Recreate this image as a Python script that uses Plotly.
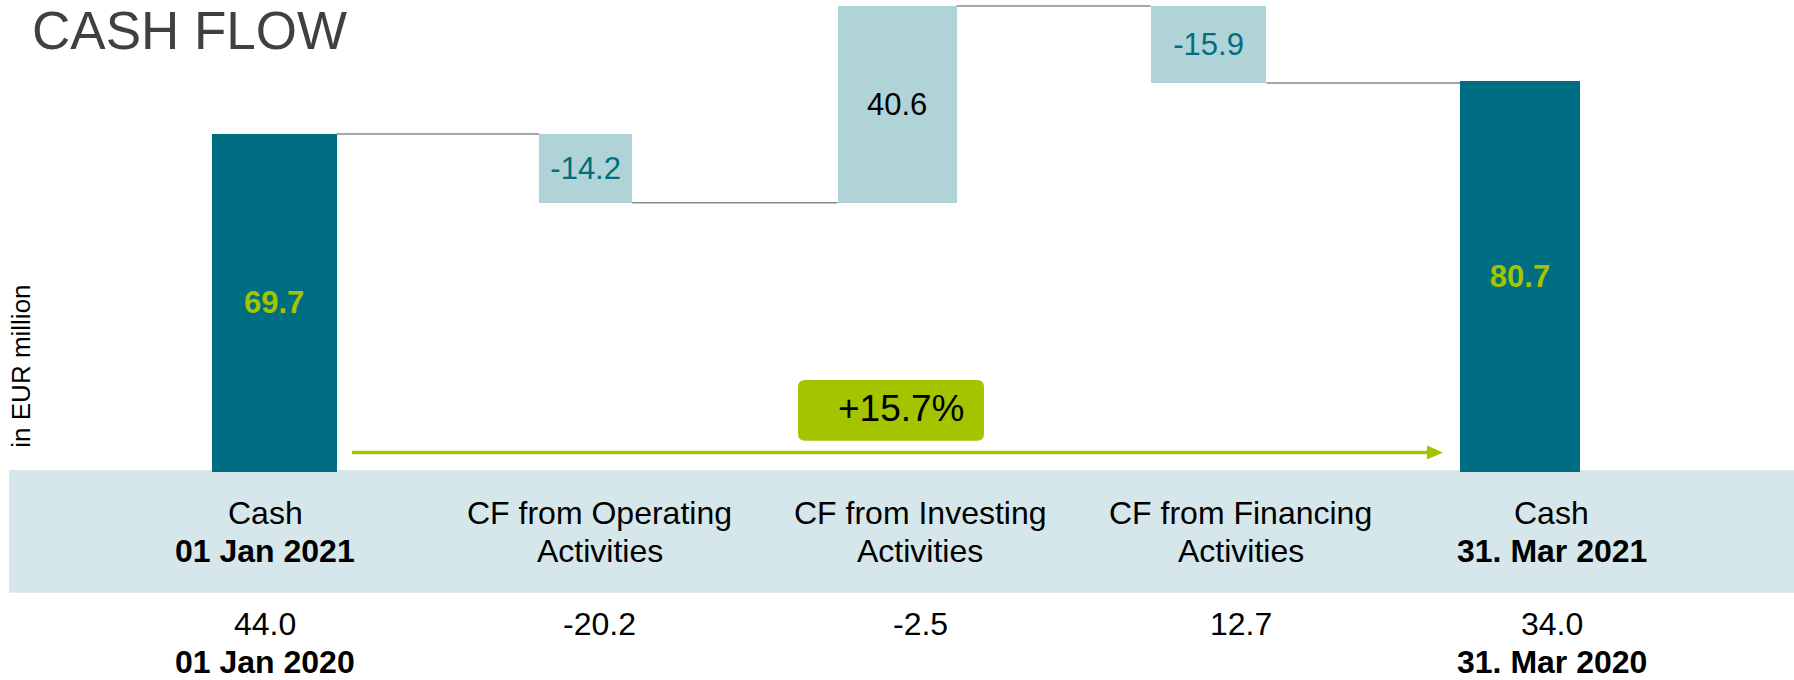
import plotly.graph_objects as go

# ---------------- data ----------------
cat_line1 = ["Cash", "CF from Operating", "CF from Investing", "CF from Financing", "Cash"]
cat_line2 = ["01 Jan 2021", "Activities", "Activities", "Activities", "31. Mar 2021"]
measures = ["absolute", "relative", "relative", "relative", "absolute"]
values_2021 = [69.7, -14.2, 40.6, -15.9, 80.7]
values_2020 = [44.0, -20.2, -2.5, 12.7, 34.0]
dates_2020 = ["01 Jan 2020", "", "", "", "31. Mar 2020"]
change_label = "+15.7%"
title_text = "CASH FLOW"
unit_text = "in EUR million"

# ---------------- style ----------------
W, H = 1794, 680
FONT = "Liberation Sans, Arial, sans-serif"
DARK = "#006e82"
LIGHT = "#b0d3d7"
BAND = "#d5e7eb"
GREEN = "#a5c400"
CONN = "#8a8a8a"
bar_widths = [0.401, 0.299, 0.382, 0.372, 0.385]
label_xshift = [-9, 14, 23, 32, 32]
line2_bold = [True, False, False, False, True]

def px_x(p):
    return p / W

def px_y(p):
    return 1 - p / H

# waterfall geometry from data
bases, running, ends = [], 0.0, []
for m, v in zip(measures, values_2021):
    if m == "absolute":
        bases.append(0.0)
        running = v
    else:
        bases.append(running)
        running = running + v
    ends.append(running)

xs = list(range(len(values_2021)))
bar_colors = [DARK if m == "absolute" else LIGHT for m in measures]
texts, text_colors = [], []
for m, v in zip(measures, values_2021):
    if m == "absolute":
        texts.append(f"<b>{v:.1f}</b>")
        text_colors.append(GREEN)
    elif v < 0:
        texts.append(f"{v:.1f}")
        text_colors.append(DARK)
    else:
        texts.append(f"{v:.1f}")
        text_colors.append("#000000")

fig = go.Figure()
fig.add_trace(go.Bar(
    x=xs, y=values_2021, base=bases, width=bar_widths,
    marker=dict(color=bar_colors, line=dict(width=0)),
    text=texts, textposition="inside", insidetextanchor="middle", textangle=0,
    textfont=dict(family=FONT, size=31, color=text_colors),
    hoverinfo="skip", showlegend=False,
))

# connectors
for i in range(len(xs) - 1):
    x0 = xs[i] + bar_widths[i] / 2
    x1 = xs[i + 1] - bar_widths[i + 1] / 2
    fig.add_trace(go.Scatter(
        x=[x0, x1], y=[ends[i], ends[i]], mode="lines",
        line=dict(color=CONN, width=1.5), hoverinfo="skip", showlegend=False,
    ))

shapes = []
# band behind the category labels
shapes.append(dict(type="rect", xref="paper", yref="paper",
                   x0=px_x(9), x1=1.0, y0=px_y(592.7), y1=px_y(470),
                   fillcolor=BAND, line=dict(width=0), layer="below"))
# green arrow
shapes.append(dict(type="line", xref="paper", yref="paper",
                   x0=px_x(352), x1=px_x(1430), y0=px_y(452.5), y1=px_y(452.5),
                   line=dict(color=GREEN, width=3.5)))
shapes.append(dict(type="path", xref="paper", yref="paper",
                   path=f"M {px_x(1443)},{px_y(452.5)} L {px_x(1427)},{px_y(445.5)} "
                        f"L {px_x(1427)},{px_y(459.5)} Z",
                   fillcolor=GREEN, line=dict(width=0)))
# rounded green box
bx0, bx1, byt, byb = px_x(798), px_x(984), px_y(380), px_y(440.7)
rx, ry = 7 / W, 7 / H
path = (f"M {bx0+rx},{byt} L {bx1-rx},{byt} Q {bx1},{byt} {bx1},{byt-ry} "
        f"L {bx1},{byb+ry} Q {bx1},{byb} {bx1-rx},{byb} "
        f"L {bx0+rx},{byb} Q {bx0},{byb} {bx0},{byb+ry} "
        f"L {bx0},{byt-ry} Q {bx0},{byt} {bx0+rx},{byt} Z")
shapes.append(dict(type="path", xref="paper", yref="paper", path=path,
                   fillcolor=GREEN, line=dict(width=0)))

annotations = []
annotations.append(dict(text=title_text, xref="paper", yref="paper",
                        x=px_x(31), y=1.0, xanchor="left", yanchor="top", borderpad=0,
                        showarrow=False, font=dict(family=FONT, size=53, color="#404040")))
annotations.append(dict(text=unit_text, xref="paper", yref="paper", textangle=-90,
                        x=px_x(21), y=px_y(366.7), xanchor="center", yanchor="middle",
                        showarrow=False, font=dict(family=FONT, size=26, color="#000000")))
annotations.append(dict(text=change_label, xref="paper", yref="paper",
                        x=px_x(901), y=px_y(408), xanchor="center", yanchor="middle",
                        showarrow=False, font=dict(family=FONT, size=37, color="#000000")))

for i in range(len(xs)):
    l2 = f"<b>{cat_line2[i]}</b>" if line2_bold[i] else cat_line2[i]
    for txt, yc in ((cat_line1[i], 513), (l2, 551)):
        annotations.append(dict(text=txt, xref="x", yref="paper", x=xs[i], xshift=label_xshift[i],
                                y=px_y(yc), xanchor="center", yanchor="middle", showarrow=False,
                                font=dict(family=FONT, size=32, color="#000000")))
    annotations.append(dict(text=f"{values_2020[i]:.1f}", xref="x", yref="paper", x=xs[i],
                            xshift=label_xshift[i], y=px_y(624), xanchor="center", yanchor="middle",
                            showarrow=False, font=dict(family=FONT, size=32, color="#000000")))
    if dates_2020[i]:
        annotations.append(dict(text=f"<b>{dates_2020[i]}</b>", xref="x", yref="paper", x=xs[i],
                                xshift=label_xshift[i], y=px_y(661.7), xanchor="center",
                                yanchor="middle", showarrow=False,
                                font=dict(family=FONT, size=32, color="#000000")))

fig.update_layout(
    width=W, height=H, autosize=False,
    margin=dict(l=0, r=0, t=0, b=0, pad=0),
    paper_bgcolor="white", plot_bgcolor="white",
    xaxis=dict(visible=False, range=[-0.8804, 4.8798], fixedrange=True),
    yaxis=dict(visible=False, range=[-43.044, 97.339], fixedrange=True),
    shapes=shapes, annotations=annotations,
    hovermode=False, bargap=0, showlegend=False,
)

fig.write_html("out.html", config={"displayModeBar": False, "staticPlot": True})
